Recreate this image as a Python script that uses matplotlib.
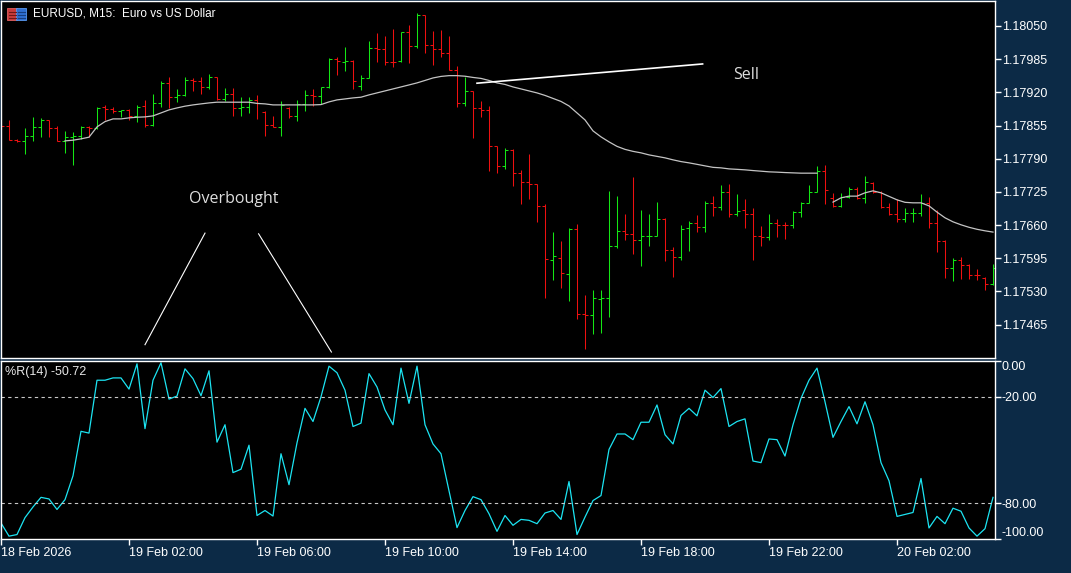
import numpy as np
import matplotlib
matplotlib.use('Agg')
import matplotlib.pyplot as plt
from matplotlib.patches import Rectangle

nan = np.nan

# EURUSD M15 bars, values in 1e-5 price points
opens = [117862, 117855, 117827, 117825, 117835, 117852, 117865, 117850, 117825, 117832,
         117835, 117853, 117851, 117891, 117887, 117883, 117886, 117874, 117893, 117856,
         117899, 117939, 117910, 117915, 117944, 117943, 117930, 117950, 117906, 117917,
         117889, 117891, 117905, 117882, 117856, 117852, 117889, 117873, 117897, 117915,
         117912, 117930, 117985, 117980, 117982, 117932, 117948, 118006, 118004, 117980,
         117981, 118038, 118011, 118072, 118013, 118004, 117998, 117964, 117900, 117922,
         117889, 117886, 117814, 117776, 117807, 117762, 117744, 117740, 117698, 117592,
         117595, 117564, 117652, 117486, 117484, 117516, 117517, 117620, 117649, 117642,
         117631, 117638, 117639, 117672, 117612, 117597, 117654, 117664, 117657, 117703,
         117696, 117725, 117682, 117689, 117682, 117638, 117637, 117664, 117661, 117660,
         117685, 117704, 117725, 117765, 117713, 117698, 117715, 117731, 117713, 117743,
         117725, 117695, 117682, 117672, 117683, 117684, 117704, 117664, 117629, 117576,
         117592, 117582, 117563, 117556, 117545]
highs = [117870, 117866, 117828, 117850, 117871, 117869, 117866, 117854, 117845, 117843,
         117854, 117855, 117891, 117895, 117892, 117886, 117887, 117895, 117905, 117916,
         117942, 117950, 117926, 117950, 117948, 117951, 117956, 117951, 117928, 117928,
         117910, 117910, 117915, 117884, 117873, 117904, 117891, 117905, 117925, 117926,
         117930, 117987, 117990, 118008, 117983, 117954, 118021, 118036, 118030, 118044,
         118039, 118052, 118076, 118072, 118041, 118042, 118030, 117972, 117951, 117922,
         117904, 117893, 117815, 117811, 117809, 117768, 117800, 117741, 117702, 117646,
         117628, 117654, 117663, 117524, 117533, 117533, 117727, 117717, 117682, 117755,
         117690, 117682, 117706, 117674, 117617, 117661, 117668, 117680, 117708, 117717,
         117739, 117741, 117721, 117711, 117693, 117659, 117682, 117672, 117667, 117687,
         117705, 117739, 117775, 117778, 117723, 117723, 117734, 117734, 117756, 117745,
         117726, 117704, 117711, 117693, 117693, 117721, 117716, 117689, 117631, 117595,
         117597, 117584, 117574, 117558, 117584]
lows = [117846, 117826, 117822, 117800, 117824, 117832, 117833, 117824, 117801, 117777,
        117828, 117833, 117849, 117865, 117880, 117871, 117866, 117862, 117852, 117854,
        117891, 117890, 117902, 117912, 117922, 117917, 117926, 117905, 117904, 117873,
        117874, 117879, 117867, 117835, 117852, 117835, 117869, 117863, 117884, 117893,
        117897, 117928, 117954, 117961, 117926, 117924, 117948, 117980, 117974, 117969,
        117980, 117977, 118006, 117998, 117974, 117990, 117963, 117891, 117893, 117830,
        117871, 117765, 117763, 117770, 117736, 117702, 117711, 117667, 117517, 117552,
        117537, 117511, 117476, 117417, 117447, 117449, 117480, 117615, 117630, 117604,
        117579, 117620, 117638, 117589, 117559, 117592, 117610, 117646, 117646, 117678,
        117690, 117676, 117677, 117655, 117591, 117620, 117631, 117636, 117633, 117655,
        117676, 117704, 117724, 117701, 117696, 117696, 117714, 117711, 117704, 117723,
        117694, 117680, 117666, 117666, 117666, 117677, 117655, 117608, 117557, 117550,
        117555, 117554, 117552, 117532, 117543]
closes = [117855, 117827, 117825, 117835, 117852, 117865, 117850, 117824, 117832, 117835,
          117853, 117851, 117889, 117887, 117884, 117886, 117874, 117892, 117856, 117899,
          117939, 117910, 117915, 117944, 117943, 117931, 117950, 117907, 117917, 117889,
          117891, 117905, 117899, 117856, 117852, 117895, 117873, 117897, 117915, 117912,
          117930, 117985, 117982, 117982, 117943, 117948, 118006, 118004, 117980, 117979,
          118038, 118011, 118072, 118013, 118004, 117998, 117964, 117900, 117922, 117889,
          117886, 117814, 117776, 117807, 117762, 117744, 117740, 117698, 117593, 117600,
          117566, 117652, 117486, 117484, 117517, 117517, 117620, 117649, 117642, 117631,
          117639, 117639, 117672, 117612, 117597, 117652, 117664, 117657, 117703, 117696,
          117725, 117682, 117687, 117682, 117638, 117637, 117664, 117661, 117660, 117685,
          117704, 117725, 117765, 117729, 117698, 117715, 117731, 117713, 117745, 117725,
          117695, 117682, 117672, 117684, 117684, 117704, 117664, 117629, 117576, 117592,
          117582, 117563, 117562, 117545, 117576]

# moving average drawn on the price chart (gap where the source line breaks)
ma = [nan] * 8 + [
    117824.9, 117826.3, 117828.9, 117832.2, 117852.3, 117862.7, 117868.0, 117868.0, 117870.0, 117871.3,
    117871.9, 117873.9, 117879.7, 117885.6, 117889.5, 117892.9, 117895.4, 117897.4, 117899.3, 117900.7,
    117900.7, 117900.7, 117900.7, 117900.7, 117898.3, 117897.4, 117895.4, 117895.4, 117895.4, 117895.4,
    117895.4, 117895.4, 117896.0, 117901.3, 117905.2, 117907.1, 117909.1, 117910.5, 117915.0, 117918.9,
    117922.8, 117926.7, 117930.6, 117934.5, 117938.5, 117943.3, 117948.2, 117951.2, 117952.7, 117952.7,
    117951.6, 117949.2, 117947.3, 117943.3, 117938.5, 117935.5, 117930.6, 117926.7, 117922.8, 117918.9,
    117914.0, 117908.1, 117902.2, 117893.4, 117879.7, 117866.0, 117844.5, 117832.8, 117823.0, 117814.2,
    117808.3, 117804.4, 117801.5, 117797.5, 117794.6, 117791.7, 117787.8, 117784.4, 117781.9, 117779.0,
    117776.0, 117773.1, 117772.1, 117770.1, 117769.2, 117768.2, 117766.8, 117765.6, 117764.3, 117763.7,
    117762.9, 117762.3, 117761.7, 117761.7, 117761.7, nan, 117705.0, 117713.4, 117716.7, 117716.7,
    117723.2, 117727.1, 117723.2, 117716.3, 117709.5, 117704.6, 117703.6, 117703.6, 117697.7, 117685.4,
    117674.3, 117666.4, 117660.6, 117655.7, 117651.8, 117648.8, 117646.3]

# Williams %R(14)
wpr = [-91, -98.4, -97.5, -88, -82, -76.6, -77.5, -83.4, -77.9, -64.5,
       -39.5, -40.5, -10.8, -10.8, -9.5, -9.5, -15.8, -1.6, -38, -10.8,
       -1, -21.4, -19.7, -4.4, -9.9, -19.5, -5.5, -45.6, -35.8, -62.7,
       -60.8, -47.3, -86.8, -84, -87.1, -52.1, -69.5, -46, -26.6, -34,
       -20.1, -2.9, -6.6, -16.4, -36.8, -34.9, -7.1, -14.6, -27.5, -35.8,
       -4, -23.8, -2.9, -35.8, -46.6, -52.1, -72.9, -93.6, -84, -76.2,
       -77.9, -85.8, -95.7, -86.8, -92.3, -89, -89.5, -91.4, -85.4, -84,
       -89, -67.7, -97.5, -87.7, -78.4, -75.6, -49.7, -41, -41, -44.2,
       -34.4, -34.4, -24.7, -41.4, -46.6, -30.6, -26.6, -30.8, -16.4, -20.5,
       -15.5, -36.8, -34, -32.5, -56.2, -57.1, -43.8, -44.2, -53.4, -35.8,
       -21, -10.8, -4, -22.9, -42.9, -34, -25.6, -35.3, -22.9, -35.8,
       -57.1, -67.3, -87.3, -86.2, -85.1, -66, -93.8, -87.3, -91.4, -82.7,
       -84.4, -93.8, -98.4, -94.2, -76.6]

price_ticks = [1.18050, 1.17985, 1.17920, 1.17855, 1.17790, 1.17725, 1.17660, 1.17595, 1.17530, 1.17465]
wpr_ticks = [0, -20, -80, -100]
time_ticks = [0, 16, 32, 48, 64, 80, 96, 112]
time_labels = ['18 Feb 2026', '19 Feb 02:00', '19 Feb 06:00', '19 Feb 10:00',
               '19 Feb 14:00', '19 Feb 18:00', '19 Feb 22:00', '20 Feb 02:00']

# hand drawn objects (bar index, price)
sell_line_x = [59.5, 87.7]
sell_line_y = [1.179379, 1.179756]
ob_left_x = [25.5, 18.0]
ob_left_y = [1.176443, 1.174257]
ob_right_x = [32.2, 41.3]
ob_right_y = [1.176429, 1.174114]
sell_pos = (93.1, 1.179541)
overbought_pos = (29.1, 1.177114)

o = np.array(opens) / 1e5
h = np.array(highs) / 1e5
l = np.array(lows) / 1e5
c = np.array(closes) / 1e5
ma = np.array(ma) / 1e5
x = np.arange(len(o))

W, H = 1071, 573
fig = plt.figure(figsize=(W / 100, H / 100), dpi=100)
fig.patch.set_facecolor('#0c2a46')


def px_rect(left, top, right, bottom):
    return [left / W, 1 - bottom / H, (right - left) / W, (bottom - top) / H]


bg = fig.add_axes(px_rect(0, 0, 1066, 563))
bg.set_facecolor('black')
bg.axis('off')

FONT = ['Liberation Sans', 'DejaVu Sans']
GREEN = '#14e614'
RED = '#ee1010'
BAR_LW = 0.75

ax = fig.add_axes(px_rect(1, 1, 995, 358))
ax2 = fig.add_axes(px_rect(1, 361, 995, 539))
for a in (ax, ax2):
    a.set_facecolor('black')
    for s in a.spines.values():
        s.set_color('white')
        s.set_linewidth(1)
    a.set_xlim(0, 124.25)

# price bars
cols = [GREEN if cc > oo else RED for oo, cc in zip(o, c)]
ax.vlines(x, l, h, colors=cols, lw=BAR_LW, snap=True)
ax.hlines(o, x - 0.36, x, colors=cols, lw=BAR_LW, snap=True)
ax.hlines(c, x, x + 0.36, colors=cols, lw=BAR_LW, snap=True)
ax.plot(x, ma, color='#c4c4c4', lw=0.9)

ax.plot(sell_line_x, sell_line_y, color='white', lw=1.2)
ax.plot(ob_left_x, ob_left_y, color='white', lw=0.8)
ax.plot(ob_right_x, ob_right_y, color='white', lw=0.8)
ax.text(*sell_pos, 'Sell', color='#dedede', fontsize=11.5, family=['Open Sans', 'DejaVu Sans'],
        ha='center', va='center')
ax.text(*overbought_pos, 'Overbought', color='#dedede', fontsize=11.5,
        family=['Open Sans', 'DejaVu Sans'], ha='center', va='center')

ax.set_ylim(1.173997, 1.180989)
ax.yaxis.tick_right()
ax.set_yticks(price_ticks)
ax.set_yticklabels(['%.5f' % p for p in price_ticks], family=FONT)
ax.tick_params(axis='y', colors='white', length=4, width=1, pad=1, labelsize=9)
ax.set_xticks([])

# Williams %R panel
ax2.plot(x, wpr, color='#1ce4f2', lw=0.9)
for lev in (-20, -80):
    ax2.axhline(lev, color='#c8c8c8', lw=0.8, ls=(0, (3, 3)))
ax2.set_ylim(-100, 0)
ax2.yaxis.tick_right()
ax2.set_yticks(wpr_ticks)
ax2.set_yticklabels(['%.2f' % v for v in wpr_ticks], family=FONT)
ax2.tick_params(axis='y', colors='white', length=4, width=1, pad=1, labelsize=9)
ylabs = ax2.get_yticklabels()
ylabs[0].set_va('top')
ylabs[-1].set_va('bottom')
ax2.set_xticks(time_ticks)
ax2.set_xticklabels(time_labels, family=FONT)
ax2.tick_params(axis='x', colors='white', length=4, width=1, pad=2, labelsize=9)
for lbl in ax2.get_xticklabels():
    lbl.set_ha('left')

# overlay for window texts and the symbol icon
ov = fig.add_axes([0, 0, 1, 1])
ov.set_xlim(0, W)
ov.set_ylim(H, 0)
ov.axis('off')
ov.patch.set_alpha(0)
ov.add_patch(Rectangle((7, 8), 10, 12, facecolor='#c83c3c', edgecolor='#e06060', lw=0.6))
ov.add_patch(Rectangle((16, 8), 10, 12, facecolor='#2f6fd0', edgecolor='#5a9af0', lw=0.6))
for yy in (11.5, 14.5, 17.5):
    ov.plot([8.5, 15.5], [yy, yy], color='#701818', lw=0.8)
    ov.plot([17.5, 24.5], [yy, yy], color='#163e80', lw=0.8)
ov.text(33, 14, 'EURUSD, M15:  Euro vs US Dollar', color='white', fontsize=8.5,
        family=FONT, va='center', ha='left')
ov.text(5, 371.5, '%R(14) -50.72', color='#e8e8e8', fontsize=9, family=FONT,
        va='center', ha='left')

fig.savefig('out.png', dpi=100, facecolor=fig.get_facecolor())
